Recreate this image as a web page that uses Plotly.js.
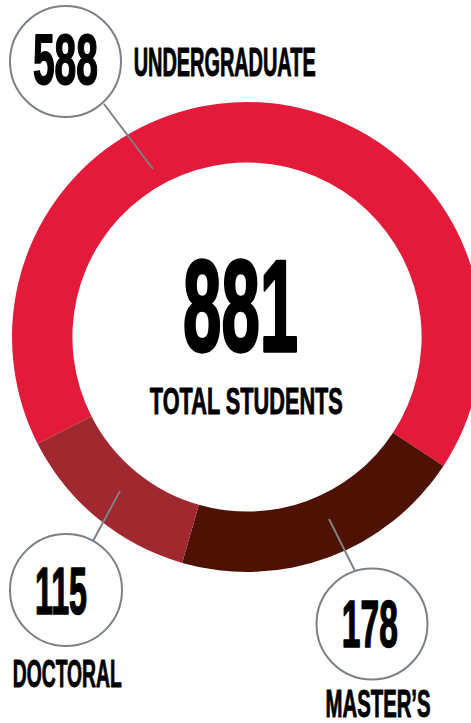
<!DOCTYPE html>
<html>
<head>
<meta charset="utf-8">
<script src="https://cdn.plot.ly/plotly-3.0.1.min.js"></script>
<style>
html,body{margin:0;padding:0;background:#fff;overflow:hidden;width:471px;height:723px;}
#chart{width:500px;height:723px;}
</style>
</head>
<body>
<div id="chart"></div>
<script>
var labels = ["UNDERGRADUATE", "MASTER\u2019S", "DOCTORAL"];
var values = [588, 178, 115];
var colors = ["#E31A3A", "#4E1204", "#A0282F"];
var totalLabel = "TOTAL STUDENTS";

var W = 500, H = 723;
function px(x){ return x / W; }
function py(y){ return 1 - y / H; }
var total = values.reduce(function(a,b){return a+b;}, 0);

var data = [{
  type: "pie",
  labels: labels,
  values: values,
  marker: {colors: colors, line: {width: 0}},
  sort: false,
  direction: "clockwise",
  rotation: 243,
  hole: 0.743,
  textinfo: "none",
  hoverinfo: "skip",
  showlegend: false,
  domain: {x: [px(12), px(482)], y: [py(572), py(102)]}
}];

var grey = "#7B8186";
function circ(cx, cy, r){
  return {type:"circle", xref:"paper", yref:"paper",
    x0:px(cx-r), x1:px(cx+r), y0:py(cy+r), y1:py(cy-r),
    line:{color:grey, width:2}, fillcolor:"#ffffff", layer:"above"};
}
function seg(x0,y0,x1,y1){
  return {type:"line", xref:"paper", yref:"paper",
    x0:px(x0), y0:py(y0), x1:px(x1), y1:py(y1),
    line:{color:grey, width:2}, layer:"above"};
}
var targets = [];
function lab(text, cx, cy, cap, tw){
  targets.push(tw);
  return {text:text, xref:"paper", yref:"paper", x:px(cx), y:py(cy),
    xanchor:"center", yanchor:"middle", showarrow:false,
    font:{family:"Liberation Sans Narrow, Arial Narrow, sans-serif", size:cap/0.73, color:"#000", weight:"bold"}};
}

var shapes = [
  seg(104, 104, 153, 169),
  seg(93, 541, 120, 491),
  seg(355, 571, 329, 519),
  circ(65.5, 61.5, 55.5),
  circ(66, 590, 56),
  circ(372, 624, 55.5)
];

var annotations = [
  lab(String(values[0]), 65.5, 59, 52, 65),
  lab(labels[0], 224, 61.5, 29, 182),
  lab(String(values[2]), 61, 591, 48, 52),
  lab(labels[2], 67, 673, 28, 109),
  lab(String(values[1]), 370, 624, 48, 56),
  lab(labels[1], 378, 703, 28, 105),
  lab(String(total), 240, 306, 95, 115),
  lab(totalLabel, 246, 401, 27, 193)
];

var layout = {
  width: W, height: H,
  margin: {l:0, r:0, t:0, b:0},
  paper_bgcolor: "#fff", plot_bgcolor: "#fff",
  shapes: shapes,
  annotations: annotations
};

Plotly.newPlot("chart", data, layout, {staticPlot:true, displayModeBar:false}).then(function(gd){
  var texts = gd.querySelectorAll(".annotation-text");
  texts.forEach(function(t, i){
    var bb = t.getBBox();
    if(!bb.width) return;
    var s = (targets[i] || bb.width) / bb.width;
    var cx = bb.x + bb.width/2;
    var fs = parseFloat(window.getComputedStyle(t).fontSize) || 20;
    t.style.stroke = "#000";
    t.style.strokeWidth = (fs * 0.025) + "px";
    t.style.strokeLinejoin = "round";
    t.setAttribute("transform", "translate(" + cx + ",0) scale(" + s + ",1) translate(" + (-cx) + ",0)");
  });
});
</script>
</body>
</html>
